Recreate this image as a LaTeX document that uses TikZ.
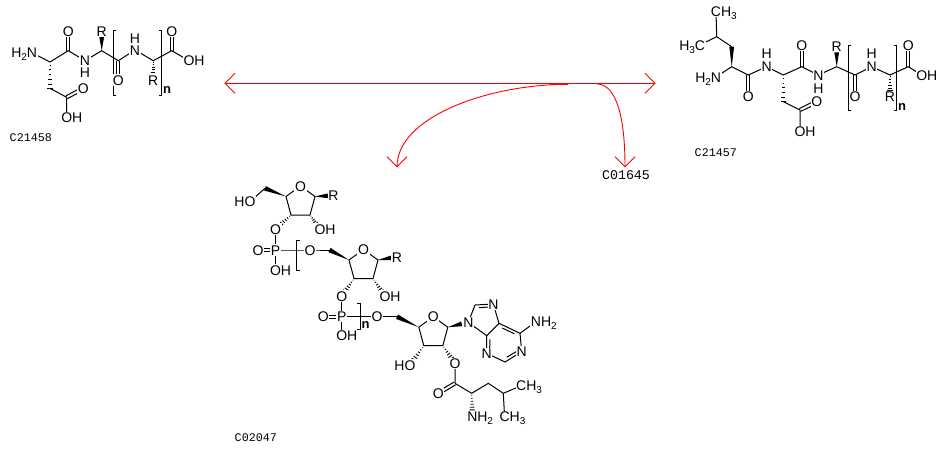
\documentclass[tikz,border=0pt]{standalone}
\usepackage{fontspec}
\setmainfont{Liberation Sans}
\newfontfamily\monof{Liberation Mono}
\usetikzlibrary{calc}
\newcommand\sub[1]{\raisebox{-3pt}{\fontsize{10}{10}\selectfont #1}}
\newcommand\wdg[3]{%
  \coordinate (wE) at ($(#1)!#3!(#2)$);
  \fill (#1) -- ($(wE)!2.4pt!90:(#1)$) -- ($(wE)!2.4pt!-90:(#1)$) -- cycle;}
\newcommand\hsh[3]{%
  \coordinate (hE) at ($(#1)!#3!(#2)$);
  \coordinate (hL) at ($(hE)!2.6pt!90:(#1)$);
  \coordinate (hR) at ($(hE)!2.6pt!-90:(#1)$);
  \foreach \hh in {0.12,0.3,0.48,0.66,0.84,1.0}{\draw[hashline] ($(#1)!\hh!(hL)$) -- ($(#1)!\hh!(hR)$);}}
\newcommand\dbl[2]{%
  \draw[bond] ($(#1)!1.6pt!90:(#2)$) -- ($(#2)!1.6pt!-90:(#1)$);
  \draw[bond] ($(#1)!1.6pt!-90:(#2)$) -- ($(#2)!1.6pt!90:(#1)$);}
\newcommand\inr[3]{%
  \coordinate (iA) at ($(#1)!3.5pt!(#3)$);
  \coordinate (iB) at ($(#2)!3.5pt!(#3)$);
  \draw[bond] ($(iA)!0.15!(iB)$) -- ($(iA)!0.85!(iB)$);}
\begin{document}
\begin{tikzpicture}[x=1pt,y=-1pt,
  bond/.style={line width=1pt},
  hashline/.style={line width=0.9pt},
  atom/.style={font=\fontsize{14}{14}\selectfont, text height=10pt, text depth=0pt, inner sep=0.6pt, fill=white},
  hlab/.style={font=\fontsize{14}{14}\selectfont, text height=10pt, text depth=0pt, inner sep=0pt},
  nsub/.style={font=\bfseries\fontsize{13}{13}\selectfont, inner sep=0pt},
  cid/.style={font=\monof\fontsize{11.7}{12}\selectfont, inner sep=0pt},
  cidbig/.style={font=\monof\fontsize{13.3}{14}\selectfont, inner sep=0pt},
  rxn/.style={draw=red, line width=0.9pt}]
\useasboundingbox (0,0) rectangle (949,451);
\fill[white] (0,0) rectangle (949,451);

% ================= C21458 =================
\coordinate (aN1) at (32,52.7);
\coordinate (aCa1) at (50,62);
\coordinate (aC1) at (68.3,50.7);
\coordinate (aO1) at (68.3,31.7);
\coordinate (aN2) at (85,60.7);
\coordinate (aCa2) at (101.7,50.7);
\coordinate (aR1) at (101.7,31.7);
\coordinate (aC2) at (118.3,60.7);
\coordinate (aO2) at (118.3,80);
\coordinate (aN3) at (135,50);
\coordinate (aCa3) at (153.3,60.7);
\coordinate (aR2) at (153.3,80);
\coordinate (aC3) at (171.7,50.7);
\coordinate (aO3) at (171.7,31.7);
\coordinate (aO4) at (189,60.7);
\coordinate (aCb) at (50,88.3);
\coordinate (aC4) at (66.7,97.3);
\coordinate (aO5) at (83.3,88.3);
\coordinate (aO6) at (66.7,117.3);
\draw[bond] (aN1) -- (aCa1) -- (aC1) -- (aN2) -- (aCa2) -- (aC2) -- (aN3) -- (aCa3) -- (aC3) -- (aO4);
\draw[bond] (aCb) -- (aC4) -- (aO6);
\dbl{aC1}{aO1}\dbl{aC2}{aO2}\dbl{aC3}{aO3}\dbl{aC4}{aO5}
\wdg{aCa2}{aR1}{0.72}
\hsh{aCa3}{aR2}{0.72}
\hsh{aCa1}{aCb}{1}
\draw[bond] (116.3,30) -- (113.3,30) -- (113.3,95) -- (116.3,95);
\draw[bond] (158.7,30) -- (161.7,30) -- (161.7,95) -- (158.7,95);
\node[atom] (laN1) at (aN1) {\llap{H\sub2}N};
\node[atom] (laO1) at (aO1) {O};
\node[atom] (laN2) at (aN2) {N};
\node[hlab] (laH2) at (85,72) {H};
\node[atom] (laR1) at (aR1) {R};
\node[atom] (laO2) at (aO2) {O};
\node[atom] (laN3) at (aN3) {N};
\node[hlab] (laH3) at (135,38.3) {H};
\node[atom] (laR2) at (aR2) {R};
\node[atom] (laO3) at (aO3) {O};
\node[atom] (laO4) at (aO4) {O\rlap{H}};
\node[atom] (laO5) at (aO5) {O};
\node[atom] (laO6) at (aO6) {O\rlap{H}};
\node[nsub] (lan) at (167.2,90) {n};
\node[cid] (idA) at (30.8,137.3) {C21458};

% ================= C21457 =================
\coordinate (bCg) at (716.7,36.7);
\coordinate (bMe1) at (716,11.7);
\coordinate (bMe2) at (700,45);
\coordinate (bCb) at (731.7,46.7);
\coordinate (bCa1) at (731.7,66.7);
\coordinate (bN1) at (716,77);
\coordinate (bC1) at (748.3,75);
\coordinate (bO1) at (748.3,96.7);
\coordinate (bN2) at (766.7,66.7);
\coordinate (bCa2) at (783.3,75);
\coordinate (bCb2) at (783.3,101.7);
\coordinate (bC4) at (800,110);
\coordinate (bO4) at (816.7,101.7);
\coordinate (bO5) at (800,131.7);
\coordinate (bC2) at (801.7,66.7);
\coordinate (bO2) at (801.7,45);
\coordinate (bN3) at (818.3,75);
\coordinate (bCa3) at (836.7,66.7);
\coordinate (bR1) at (836.7,46.7);
\coordinate (bC3) at (855,75);
\coordinate (bO3) at (855,96.7);
\coordinate (bN4) at (871.7,66.7);
\coordinate (bCa4) at (890,75);
\coordinate (bR2) at (890,96.7);
\coordinate (bC5) at (908.3,66.7);
\coordinate (bO6) at (908.3,45);
\coordinate (bO7) at (921.7,75);
\draw[bond] (bMe1) -- (bCg) -- (bMe2);
\draw[bond] (bCg) -- (bCb);
\wdg{bCa1}{bCb}{1}
\draw[bond] (bN1) -- (bCa1) -- (bC1) -- (bN2) -- (bCa2) -- (bC2) -- (bN3) -- (bCa3) -- (bC3) -- (bN4) -- (bCa4) -- (bC5) -- (bO7);
\dbl{bC1}{bO1}\dbl{bC2}{bO2}\dbl{bC3}{bO3}\dbl{bC5}{bO6}\dbl{bC4}{bO4}
\hsh{bCa2}{bCb2}{1}
\draw[bond] (bCb2) -- (bC4) -- (bO5);
\wdg{bCa3}{bR1}{0.72}
\hsh{bCa4}{bR2}{0.72}
\draw[bond] (851.3,45) -- (848.3,45) -- (848.3,110) -- (851.3,110);
\draw[bond] (893.7,45) -- (896.7,45) -- (896.7,110) -- (893.7,110);
\node[atom] (lbMe1) at (bMe1) {C\rlap{H\sub3}};
\node[atom] (lbMe2) at (bMe2) {\llap{H\sub3}C};
\node[atom] (lbN1) at (bN1) {\llap{H\sub2}N};
\node[atom] (lbO1) at (bO1) {O};
\node[atom] (lbN2) at (bN2) {N};
\node[hlab] (lbH2) at (766.7,53.3) {H};
\node[atom] (lbO2) at (bO2) {O};
\node[atom] (lbN3) at (bN3) {N};
\node[hlab] (lbH3) at (818.3,88.3) {H};
\node[atom] (lbR1) at (bR1) {R};
\node[atom] (lbO3) at (bO3) {O};
\node[atom] (lbN4) at (bN4) {N};
\node[hlab] (lbH4) at (871.7,53.3) {H};
\node[atom] (lbR2) at (bR2) {R};
\node[atom] (lbO6) at (bO6) {O};
\node[atom] (lbO7) at (bO7) {O\rlap{H}};
\node[atom] (lbO4) at (bO4) {O};
\node[atom] (lbO5) at (bO5) {O\rlap{H}};
\node[nsub] (lbn) at (902.2,106.7) {n};
\node[cid] (idB) at (715.8,152.4) {C21457};

% ================= C02047 =================
% unit 1
\coordinate (cO1r) at (300.5,186);
\coordinate (cC4a) at (286,196.5);
\coordinate (cC1a) at (315,196.5);
\coordinate (cC3a) at (291,215);
\coordinate (cC2a) at (310,215);
\coordinate (cC5a) at (265,188.3);
\coordinate (cHOa) at (250,201.7);
\coordinate (cRa) at (333.3,195.5);
\coordinate (cOa1) at (275.5,229);
\coordinate (cOHa) at (320,229);
\coordinate (cP1) at (275.5,250);
\coordinate (cOb1) at (258,250);
\coordinate (cOH1) at (275.5,270);
\coordinate (cOc1) at (310,250);
\coordinate (cC5b) at (329.5,250);
\draw[bond] (cC4a) -- (cO1r) -- (cC1a) -- (cC2a) -- (cC3a) -- (cC4a);
\wdg{cC4a}{cC5a}{1}
\draw[bond] (cC5a) -- (cHOa);
\wdg{cC1a}{cRa}{0.7}
\hsh{cC3a}{cOa1}{0.72}
\hsh{cC2a}{cOHa}{0.72}
\draw[bond] (cOa1) -- (cP1) -- (cOH1);
\draw[bond] (cP1) -- (cOc1) -- (cC5b);
\dbl{cP1}{cOb1}
\draw[bond] (299.7,240) -- (296.7,240) -- (296.7,270) -- (299.7,270);
% unit 2
\coordinate (cO2r) at (363.5,249.5);
\coordinate (cC4b) at (349,260);
\coordinate (cC1b) at (378,260);
\coordinate (cC3b) at (354,278.5);
\coordinate (cC2b) at (373,278.5);
\coordinate (cRb) at (397,257);
\coordinate (cOa2) at (341.7,296);
\coordinate (cOHb) at (385,296);
\coordinate (cP2) at (341.7,316.7);
\coordinate (cOb2) at (323.3,316.7);
\coordinate (cOH2) at (341.7,335.5);
\coordinate (cOc2) at (377,316.7);
\coordinate (cC5c) at (397,316.7);
\draw[bond] (cC4b) -- (cO2r) -- (cC1b) -- (cC2b) -- (cC3b) -- (cC4b);
\wdg{cC4b}{cC5b}{1}
\wdg{cC1b}{cRb}{0.7}
\hsh{cC3b}{cOa2}{0.72}
\hsh{cC2b}{cOHb}{0.72}
\draw[bond] (cOa2) -- (cP2) -- (cOH2);
\draw[bond] (cP2) -- (cOc2) -- (cC5c);
\dbl{cP2}{cOb2}
\draw[bond] (357,303) -- (360,303) -- (360,329) -- (357,329);
% unit 3
\coordinate (cO3r) at (433.3,316.7);
\coordinate (cC4c) at (418.8,327.2);
\coordinate (cC1c) at (447.8,327.2);
\coordinate (cC3c) at (423.8,345.7);
\coordinate (cC2c) at (442.8,345.7);
\coordinate (cN9) at (468.3,322.3);
\coordinate (cC8) at (475,305);
\coordinate (cN7) at (493.3,304);
\coordinate (cC5) at (499,323.3);
\coordinate (cC4) at (486.7,335.7);
\coordinate (cN3) at (486.7,353.3);
\coordinate (cC2) at (505,362);
\coordinate (cN1) at (521.7,351.7);
\coordinate (cC6) at (520,333.3);
\coordinate (cN6) at (536,321.7);
\coordinate (cpen) at (483,317);
\coordinate (chex) at (503,343);
\coordinate (cHOc) at (410,365);
\coordinate (cOe) at (455,363.3);
\coordinate (cCe) at (455,383.3);
\coordinate (cOf) at (438.3,393.3);
\coordinate (cCaL) at (471.7,393.3);
\coordinate (cNL) at (472.3,416.3);
\coordinate (cCbL) at (488.3,383.3);
\coordinate (cCgL) at (503.3,393.3);
\coordinate (cMe1) at (521.2,385.7);
\coordinate (cMe2) at (504.6,416.7);
\draw[bond] (cC4c) -- (cO3r) -- (cC1c) -- (cC2c) -- (cC3c) -- (cC4c);
\wdg{cC4c}{cC5c}{1}
\wdg{cC1c}{cN9}{0.68}
\hsh{cC3c}{cHOc}{0.72}
\hsh{cC2c}{cOe}{0.72}
\draw[bond] (cN9) -- (cC8) -- (cN7) -- (cC5) -- (cC6) -- (cN1) -- (cC2) -- (cN3) -- (cC4) -- (cN9);
\draw[bond] (cC4) -- (cC5);
\draw[bond] (cC6) -- (cN6);
\inr{cC8}{cN7}{cpen}
\inr{cC5}{cC6}{chex}
\inr{cN1}{cC2}{chex}
\inr{cN3}{cC4}{chex}
\draw[bond] (cOe) -- (cCe) -- (cCaL) -- (cCbL) -- (cCgL) -- (cMe1);
\draw[bond] (cCgL) -- (cMe2);
\dbl{cCe}{cOf}
\hsh{cCaL}{cNL}{0.72}
% labels
\node[atom] (lcO1r) at (cO1r) {O};
\node[atom] (lcHOa) at (cHOa) {\llap{H}O};
\node[atom] (lcRa) at (cRa) {R};
\node[atom] (lcOa1) at (cOa1) {O};
\node[atom] (lcOHa) at (cOHa) {O\rlap{H}};
\node[atom] (lcP1) at (cP1) {P};
\node[atom] (lcOb1) at (cOb1) {O};
\node[atom] (lcOH1) at (cOH1) {O\rlap{H}};
\node[atom] (lcOc1) at (cOc1) {O};
\node[atom] (lcO2r) at (cO2r) {O};
\node[atom] (lcRb) at (cRb) {R};
\node[atom] (lcOa2) at (cOa2) {O};
\node[atom] (lcOHb) at (cOHb) {O\rlap{H}};
\node[atom] (lcP2) at (cP2) {P};
\node[atom] (lcOb2) at (cOb2) {O};
\node[atom] (lcOH2) at (cOH2) {O\rlap{H}};
\node[atom] (lcOc2) at (cOc2) {O};
\node[nsub] (lcn) at (365.7,325) {n};
\node[atom] (lcO3r) at (cO3r) {O};
\node[atom] (lcN9) at (cN9) {N};
\node[atom] (lcN7) at (cN7) {N};
\node[atom] (lcN3) at (cN3) {N};
\node[atom] (lcN1) at (cN1) {N};
\node[atom] (lcN6) at (cN6) {N\rlap{H\sub2}};
\node[atom] (lcHOc) at (cHOc) {\llap{H}O};
\node[atom] (lcOe) at (cOe) {O};
\node[atom] (lcOf) at (cOf) {O};
\node[atom] (lcNL) at (cNL) {N\rlap{H\sub2}};
\node[atom] (lcMe1) at (cMe1) {C\rlap{H\sub3}};
\node[atom] (lcMe2) at (cMe2) {C\rlap{H\sub3}};
\node[cid] (idC) at (255.8,437.8) {C02047};

% ================= reaction arrows =================
\coordinate (rL) at (225,83.3);
\coordinate (rR) at (655,83.3);
\draw[rxn] (rL) -- (rR);
\draw[rxn] ($(rL)+(10,-10)$) -- (rL) -- ($(rL)+(10,10)$);
\draw[rxn] ($(rR)+(-10,-10)$) -- (rR) -- ($(rR)+(-10,10)$);
\coordinate (rS1) at (568,84.3);
\coordinate (rE1) at (397,166.7);
\draw[rxn] (550,84.3) -- (rS1);
\draw[rxn] (rS1) .. controls (488,84.3) and (397,117) .. (rE1);
\draw[rxn] ($(rE1)+(-10,-10)$) -- (rE1) -- ($(rE1)+(10,-10)$);
\coordinate (rS2) at (597,84);
\coordinate (rE2) at (625,166.7);
\draw[rxn] (rS2) .. controls (612,84) and (625,105) .. (rE2);
\draw[rxn] ($(rE2)+(-10,-10)$) -- (rE2) -- ($(rE2)+(10,-10)$);
\node[cidbig] (idD) at (626,175.3) {C01645};
\end{tikzpicture}
\end{document}
